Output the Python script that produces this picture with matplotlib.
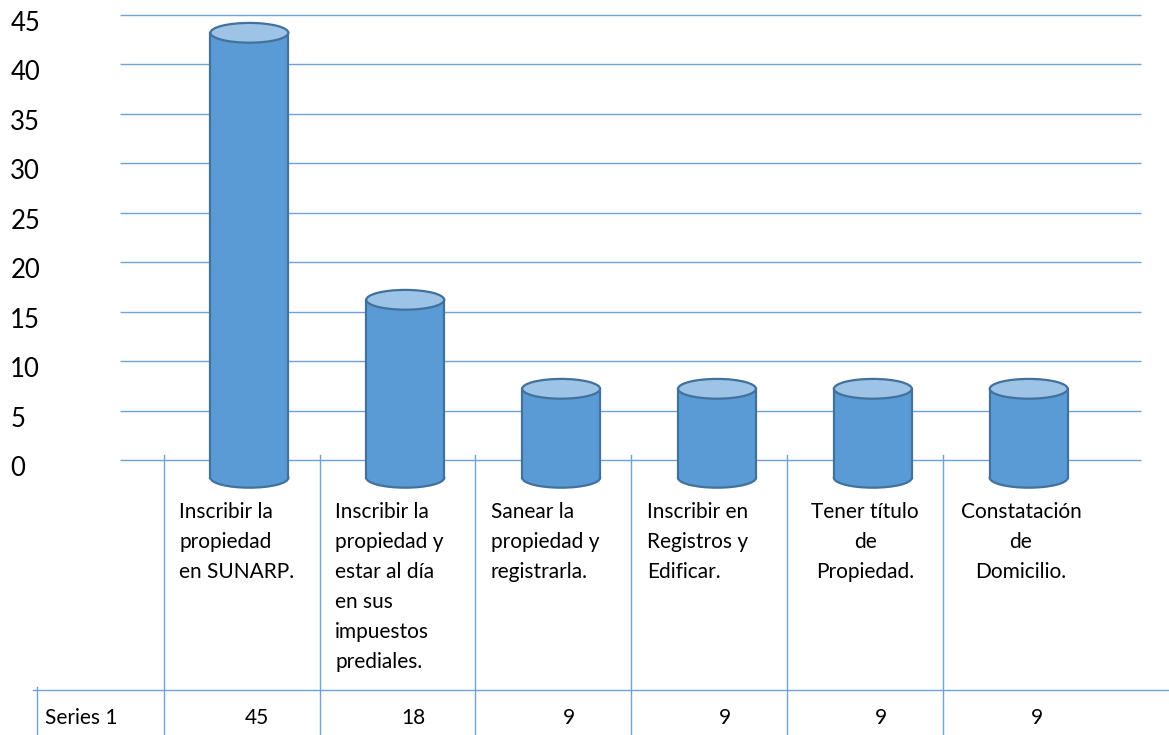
import matplotlib
matplotlib.use("Agg")
import matplotlib.pyplot as plt
import matplotlib.transforms as mtransforms
from matplotlib.patches import Ellipse, Rectangle

# datos del gráfico
categories = [
    "Inscribir la\npropiedad\nen SUNARP.",
    "Inscribir la\npropiedad y\nestar al día\nen sus\nimpuestos\nprediales.",
    "Sanear la\npropiedad y\nregistrarla.",
    "Inscribir en\nRegistros y\nEdificar.",
    "Tener título\nde\nPropiedad.",
    "Constatación\nde\nDomicilio.",
]
values = [45, 18, 9, 9, 9, 9]
series_name = "Series 1"
y_ticks = [0, 5, 10, 15, 20, 25, 30, 35, 40, 45]

plt.rcParams["font.family"] = ["Lato", "DejaVu Sans"]

W, H = 1169, 735
BODY = "#5B9BD5"
TOP = "#9DC3E6"
EDGE = "#41719C"
GRID = "#6FA3D8"

fig = plt.figure(figsize=(W / 100, H / 100), dpi=100)
ax = fig.add_axes([120 / W, (H - 460) / H, (W - 120) / W, 445 / H])
ax.set_xlim(-0.83, 5.9)
ax.set_ylim(0, 45)
for s in ax.spines.values():
    s.set_visible(False)
ax.set_xticks([])
ax.set_yticks(y_ticks)
ax.tick_params(axis="y", length=0, pad=79, labelsize=18.5)
shift = mtransforms.ScaledTranslation(0, -0.06, fig.dpi_scale_trans)
for t in ax.get_yticklabels():
    t.set_horizontalalignment("left")
    t.set_transform(t.get_transform() + shift)

# líneas de la cuadrícula (pared del fondo)
ax.hlines(y_ticks, -0.83, 5.72, color=GRID, lw=1.0, zorder=1, clip_on=False)

# cilindros: desplazados hacia abajo por la profundidad 3D
depth = -1.8
w = 0.5
eh = 2.0
for i, v in enumerate(values):
    base = depth
    top = depth + v
    ax.add_patch(Ellipse((i, base), w, eh, facecolor=BODY, edgecolor=EDGE,
                         lw=1.6, zorder=3, clip_on=False))
    ax.add_patch(Rectangle((i - w / 2, base), w, v, facecolor=BODY,
                           edgecolor="none", zorder=4, clip_on=False))
    ax.plot([i - w / 2, i - w / 2], [base, top], color=EDGE, lw=1.6,
            zorder=5, clip_on=False)
    ax.plot([i + w / 2, i + w / 2], [base, top], color=EDGE, lw=1.6,
            zorder=5, clip_on=False)
    ax.add_patch(Ellipse((i, top), w, eh, facecolor=TOP, edgecolor=EDGE,
                         lw=1.6, zorder=6, clip_on=False))

# tabla de datos debajo del gráfico
trans = mtransforms.blended_transform_factory(ax.transData, fig.transFigure)
row_y = (H - 690) / H
col_edges = [i - 0.55 for i in range(len(values))]
for xe in col_edges:
    ax.plot([xe, xe], [(H - 455) / H, 0], color=GRID, lw=1.0,
            transform=trans, clip_on=False)
fig.add_artist(plt.Line2D([33 / W, 1.0], [row_y, row_y], color=GRID, lw=1.0))
fig.add_artist(plt.Line2D([37 / W, 37 / W], [row_y + 0.004, 0], color=GRID, lw=1.0))

text_top = (H - 502) / H
for i, (cat, v) in enumerate(zip(categories, values)):
    if i < 4:
        ax.text(col_edges[i] + 0.1, text_top, cat, transform=trans,
                ha="left", va="top", fontsize=15, linespacing=1.62,
                multialignment="left")
    else:
        ax.text(i - 0.05, text_top, cat, transform=trans,
                ha="center", va="top", fontsize=15, linespacing=1.62,
                multialignment="center")
    ax.text(i + 0.05, (H - 718) / H, str(v), transform=trans, ha="center",
            va="center", fontsize=15)

fig.text(45 / W, (H - 718) / H, series_name, ha="left", va="center", fontsize=15)

fig.savefig("out.png", dpi=100)
